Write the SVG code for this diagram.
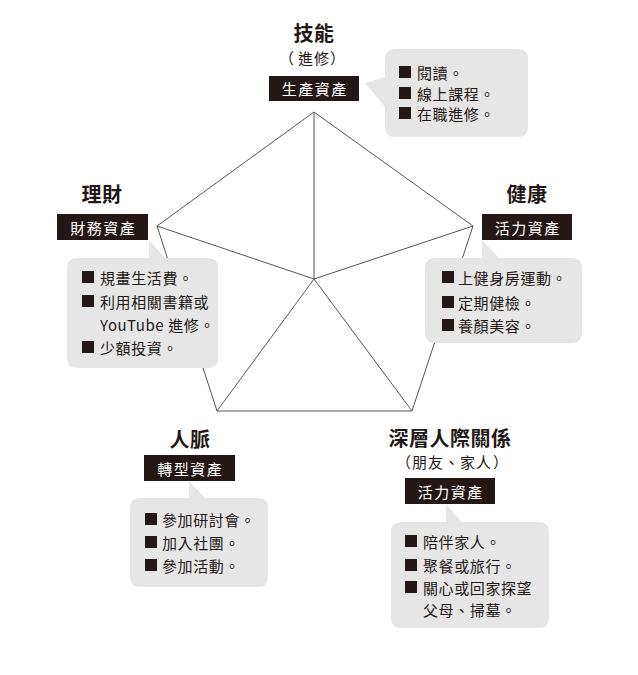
<svg xmlns="http://www.w3.org/2000/svg" width="638" height="675" viewBox="0 0 638 675" xml:lang="zh-Hant">
<style>
text{font-family:"Noto Sans CJK TC","Noto Sans CJK SC",sans-serif;fill:#231815;dominant-baseline:central;text-spacing-trim:space-all;font-feature-settings:"halt" 0,"chws" 0,"palt" 0}
.title{font-size:20px;font-weight:bold;text-anchor:middle;letter-spacing:0.5px}
.sub{font-size:15px;letter-spacing:1px}
.tag{fill:#231815}
.tagt{fill:#fff;font-size:15px;text-anchor:middle;letter-spacing:1.5px}
.bubble{fill:#e6e6e6}
.item{font-size:15px;letter-spacing:0.6px}
.sq{fill:#231815}
.edge{fill:none;stroke:#555;stroke-width:1}
</style>
<rect width="638" height="675" fill="#fff"/>
<g id="connectors">
<polygon class="edge" points="314,112 473,226 412,411 217,411 157,226"/>
<line class="edge" x1="314" y1="279" x2="314" y2="112"/>
<line class="edge" x1="314" y1="279" x2="473" y2="226"/>
<line class="edge" x1="314" y1="279" x2="412" y2="411"/>
<line class="edge" x1="314" y1="279" x2="217" y2="411"/>
<line class="edge" x1="314" y1="279" x2="157" y2="226"/>
</g>
<g id="skill">
<text class="title" x="314" y="32">技能</text>
<text class="sub" y="57"><tspan x="279">（</tspan><tspan x="298">進修</tspan><tspan x="330">）</tspan></text>
<rect class="tag" x="269" y="76" width="90" height="25"/>
<text class="tagt" x="314.75" y="88.5">生產資產</text>
<path class="bubble" d="M395,49 H518 Q528,49 528,59 V127 Q528,137 518,137 H395 Q385,137 385,127 V107 L365,83 L385,77 V59 Q385,49 395,49 Z"/>
<rect class="sq" x="399" y="66" width="12" height="12"/>
<text class="item" x="417" y="72">閱讀。</text>
<rect class="sq" x="399" y="87" width="12" height="12"/>
<text class="item" x="417" y="93">線上課程。</text>
<rect class="sq" x="399" y="107" width="12" height="12"/>
<text class="item" x="417" y="113">在職進修。</text>
</g>
<g id="finance">
<text class="title" x="102" y="193">理財</text>
<rect class="tag" x="57" y="214" width="91" height="26"/>
<text class="tagt" x="103.25" y="227">財務資產</text>
<path class="bubble" d="M77,258 H149 V240 L165,258 H208 Q218,258 218,268 V358 Q218,368 208,368 H77 Q67,368 67,358 V268 Q67,258 77,258 Z"/>
<rect class="sq" x="82" y="271" width="12" height="12"/>
<text class="item" x="100" y="277">規畫生活費。</text>
<rect class="sq" x="82" y="295" width="12" height="12"/>
<text class="item" x="100" y="301">利用相關書籍或</text>
<text class="item" x="100" y="324">YouTube 進修。</text>
<rect class="sq" x="82" y="341" width="12" height="12"/>
<text class="item" x="100" y="347">少額投資。</text>
</g>
<g id="health">
<text class="title" x="527" y="193">健康</text>
<rect class="tag" x="482" y="214" width="90" height="26"/>
<text class="tagt" x="527.75" y="227">活力資產</text>
<path class="bubble" d="M435,258 H482 V240 L499,258 H572 Q582,258 582,268 V333 Q582,343 572,343 H435 Q425,343 425,333 V268 Q425,258 435,258 Z"/>
<rect class="sq" x="442" y="271" width="12" height="12"/>
<text class="item" x="458" y="277">上健身房運動。</text>
<rect class="sq" x="442" y="296" width="12" height="12"/>
<text class="item" x="458" y="302">定期健檢。</text>
<rect class="sq" x="442" y="319" width="12" height="12"/>
<text class="item" x="458" y="325">養顏美容。</text>
</g>
<g id="network">
<text class="title" x="190" y="438">人脈</text>
<rect class="tag" x="144" y="455" width="91" height="26"/>
<text class="tagt" x="190.25" y="468">轉型資產</text>
<path class="bubble" d="M140,498 H189 V481 L205,498 H258 Q268,498 268,508 V577 Q268,587 258,587 H140 Q130,587 130,577 V508 Q130,498 140,498 Z"/>
<rect class="sq" x="145" y="513" width="12" height="12"/>
<text class="item" x="162" y="519">參加研討會。</text>
<rect class="sq" x="145" y="536" width="12" height="12"/>
<text class="item" x="162" y="542">加入社團。</text>
<rect class="sq" x="145" y="559" width="12" height="12"/>
<text class="item" x="162" y="565">參加活動。</text>
</g>
<g id="relationships">
<text class="title" x="450" y="437">深層人際關係</text>
<text class="sub" y="461"><tspan x="396">（</tspan><tspan x="412">朋友、家人</tspan><tspan x="493">）</tspan></text>
<rect class="tag" x="405" y="478" width="90" height="26"/>
<text class="tagt" x="450.75" y="491">活力資產</text>
<path class="bubble" d="M401,522 H446 V504 L462,522 H539 Q549,522 549,532 V618 Q549,628 539,628 H401 Q391,628 391,618 V532 Q391,522 401,522 Z"/>
<rect class="sq" x="405" y="535" width="12" height="12"/>
<text class="item" x="423" y="541">陪伴家人。</text>
<rect class="sq" x="405" y="559" width="12" height="12"/>
<text class="item" x="423" y="565">聚餐或旅行。</text>
<rect class="sq" x="405" y="581" width="12" height="12"/>
<text class="item" x="423" y="587">關心或回家探望</text>
<text class="item" x="423" y="609">父母、掃墓。</text>
</g>
</svg>
